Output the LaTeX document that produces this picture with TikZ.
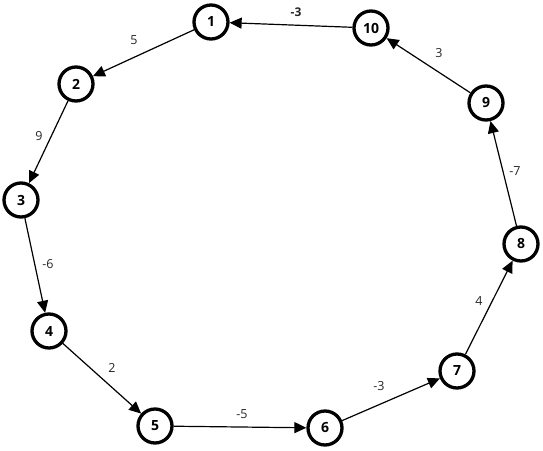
\documentclass[tikz,border=0pt]{standalone}
\usepackage{fontspec}
\setmainfont{Open Sans}
\usetikzlibrary{arrows.meta}
\begin{document}
\begin{tikzpicture}[x=1pt,y=-1pt,
  vnode/.style={circle,draw,line width=3.3pt,minimum size=34pt,inner sep=0pt,font=\bfseries\fontsize{14}{16}\selectfont},
  edge/.style={line width=1.2pt,-{Triangle[length=12pt,width=11pt]}},
  wlabel/.style={font=\fontsize{12.5}{14}\selectfont,text=black!85}]
\useasboundingbox (0,0) rectangle (543,450);
\node[vnode] (n1) at (211,22) {1};
\node[vnode] (n2) at (76,84) {2};
\node[vnode] (n3) at (21,200) {3};
\node[vnode] (n4) at (49,331) {4};
\node[vnode] (n5) at (155,426) {5};
\node[vnode] (n6) at (325,428) {6};
\node[vnode] (n7) at (457,371) {7};
\node[vnode] (n8) at (521,244) {8};
\node[vnode] (n9) at (486,103) {9};
\node[vnode] (n10) at (371,28) {10};
\draw[edge] (n1) -- (n2);
\draw[edge] (n2) -- (n3);
\draw[edge] (n3) -- (n4);
\draw[edge] (n4) -- (n5);
\draw[edge] (n5) -- (n6);
\draw[edge] (n6) -- (n7);
\draw[edge] (n7) -- (n8);
\draw[edge] (n8) -- (n9);
\draw[edge] (n9) -- (n10);
\draw[edge] (n10) -- (n1);
\node[wlabel] (l1) at (134,40) {5};
\node[wlabel] (l2) at (39,136) {9};
\node[wlabel] (l3) at (48,264) {-6};
\node[wlabel] (l4) at (112,368) {2};
\node[wlabel] (l5) at (242,414) {-5};
\node[wlabel] (l6) at (379,386) {-3};
\node[wlabel] (l7) at (479,301) {4};
\node[wlabel] (l8) at (515,171) {-7};
\node[wlabel] (l9) at (439,53) {3};
\node[wlabel,font=\bfseries\fontsize{12}{14}\selectfont] (l10) at (296,12) {-3};
\end{tikzpicture}
\end{document}
